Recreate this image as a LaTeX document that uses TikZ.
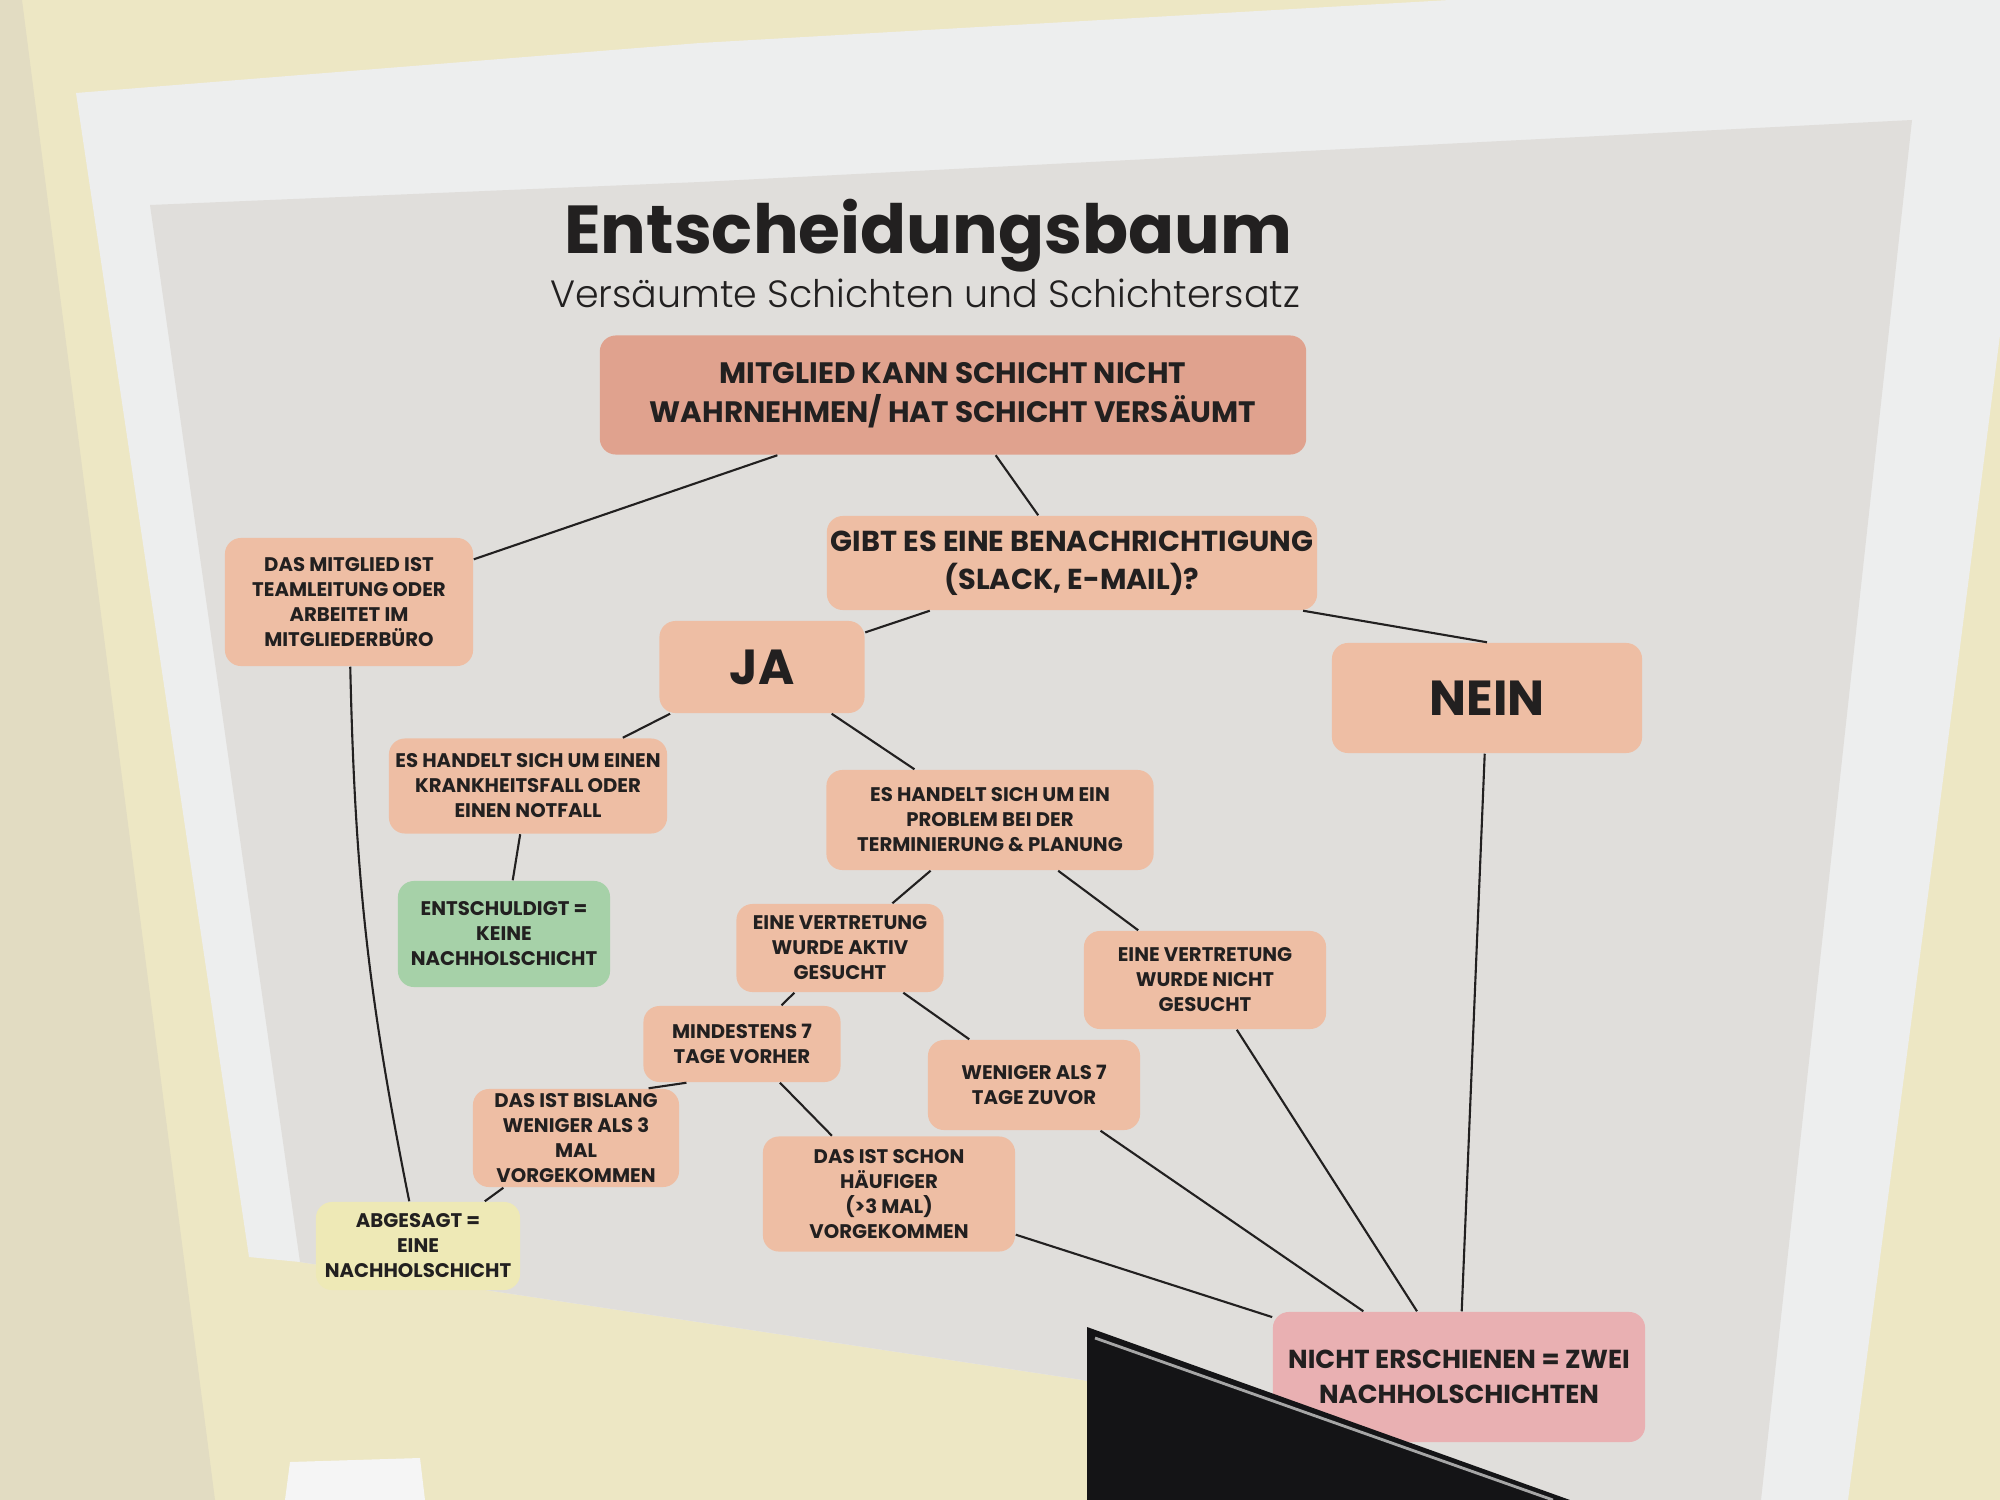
\documentclass[tikz,border=0pt]{standalone}
\usepackage{fontspec}
\setmainfont{Poppins}
\newfontfamily\lightfont{Poppins Light}
\usetikzlibrary{calc}

\definecolor{wall}{RGB}{237,231,196}
\definecolor{wallshade}{RGB}{226,220,194}
\definecolor{paper}{RGB}{237,238,238}
\definecolor{panel}{RGB}{224,222,219}
\definecolor{ink}{RGB}{34,32,32}
\definecolor{peach}{RGB}{238,190,164}
\definecolor{salmon}{RGB}{224,162,142}
\definecolor{mint}{RGB}{166,209,168}
\definecolor{cream}{RGB}{238,233,182}
\definecolor{rose}{RGB}{233,176,178}
\definecolor{screen}{RGB}{20,20,22}

\tikzset{
  card/.style={rounded corners=0.16cm, fill=peach, text=ink, align=center,
    inner sep=0pt, font=\fontsize{5.6}{7.1}\selectfont\bfseries},
  headcard/.style={card, font=\fontsize{8.4}{11}\selectfont\bfseries},
  answer/.style={card, font=\fontsize{14}{16}\selectfont\bfseries},
  link/.style={draw=ink, line width=0.6pt},
}

\begin{document}
\begin{tikzpicture}[x=0.01cm,y=-0.01cm]
\useasboundingbox (0,0) rectangle (2000,1500);
% wall, sheet and printed panel
\fill[wall] (0,0) rectangle (2000,1500);
\fill[wallshade] (0,0) -- (22,0) -- (215,1500) -- (0,1500) -- cycle;
\fill[paper] (76,93) -- (700,43) -- (1450,0) -- (2000,0) -- (2000,335) -- (1935,842)
  -- (1848,1500) -- (1560,1500) -- (1083,1380) -- (300,1262) -- (249,1257) -- cycle;
\fill[panel] (150,205) -- (700,182) -- (1912,120) -- (1761,1500) -- (1560,1500)
  -- (1083,1380) -- (300,1262) -- cycle;

\node[text=ink,font=\fontsize{19.3}{23}\selectfont\bfseries] (title) at (928,236) {Entscheidungsbaum};
\node[text=ink,font=\fontsize{10.8}{13}\selectfont\lightfont] (subtitle) at (925,293) {Versäumte Schichten und Schichtersatz};

% boxes
\node[headcard,fill=salmon,minimum width=7.06cm,minimum height=1.19cm] (top) at (953,395)
  {MITGLIED KANN SCHICHT NICHT\\WAHRNEHMEN/ HAT SCHICHT VERSÄUMT};
\node[card,minimum width=2.48cm,minimum height=1.28cm] (member) at (349,602)
  {DAS MITGLIED IST\\TEAMLEITUNG ODER\\ARBEITET IM\\MITGLIEDERBÜRO};
\node[headcard,minimum width=4.9cm,minimum height=0.94cm,
  font=\fontsize{8.2}{10.8}\selectfont\bfseries] (notice) at (1072,563)
  {GIBT ES EINE BENACHRICHTIGUNG\\(SLACK, E-MAIL)?};
\node[answer,minimum width=2.05cm,minimum height=0.92cm] (ja) at (762,667) {JA};
\node[answer,minimum width=3.1cm,minimum height=1.1cm] (nein) at (1487,698) {NEIN};
\node[card,minimum width=2.78cm,minimum height=0.95cm] (illness) at (528,786)
  {ES HANDELT SICH UM EINEN\\KRANKHEITSFALL ODER\\EINEN NOTFALL};
\node[card,minimum width=3.27cm,minimum height=1cm] (planning) at (990,820)
  {ES HANDELT SICH UM EIN\\PROBLEM BEI DER\\TERMINIERUNG \& PLANUNG};
\node[card,fill=mint,minimum width=2.12cm,minimum height=1.06cm] (excused) at (504,934)
  {ENTSCHULDIGT =\\KEINE\\NACHHOLSCHICHT};
\node[card,minimum width=2.07cm,minimum height=0.88cm] (sought) at (840,948)
  {EINE VERTRETUNG\\WURDE AKTIV\\GESUCHT};
\node[card,minimum width=2.42cm,minimum height=0.98cm] (notsought) at (1205,980)
  {EINE VERTRETUNG\\WURDE NICHT\\GESUCHT};
\node[card,minimum width=1.97cm,minimum height=0.76cm] (early) at (742,1044)
  {MINDESTENS 7\\TAGE VORHER};
\node[card,minimum width=2.12cm,minimum height=0.9cm] (late) at (1034,1085)
  {WENIGER ALS 7\\TAGE ZUVOR};
\node[card,minimum width=2.06cm,minimum height=0.98cm] (rare) at (576,1138)
  {DAS IST BISLANG\\WENIGER ALS 3\\MAL\\VORGEKOMMEN};
\node[card,minimum width=2.52cm,minimum height=1.15cm] (often) at (889,1194)
  {DAS IST SCHON\\HÄUFIGER\\(>3 MAL)\\VORGEKOMMEN};
\node[card,fill=cream,minimum width=2.04cm,minimum height=0.88cm] (cancelled) at (418,1246)
  {ABGESAGT =\\EINE\\NACHHOLSCHICHT};
\node[headcard,fill=rose,minimum width=3.72cm,minimum height=1.3cm,
  font=\fontsize{7.4}{10}\selectfont\bfseries] (noshow) at (1459,1377)
  {NICHT ERSCHIENEN = ZWEI\\NACHHOLSCHICHTEN};

% connectors
\draw[link] (top) -- (member);
\draw[link] (top) -- (notice);
\draw[link] (notice) -- (ja);
\draw[link] ($(notice.south east)!0.03!(notice.south west)$) -- (nein.north);
\draw[link] (ja) -- (illness);
\draw[link] (ja) -- (planning);
\draw[link] (illness) -- (excused);
\draw[link] (planning) -- (sought);
\draw[link] (planning) -- (notsought);
\draw[link] (sought) -- (early);
\draw[link] (sought) -- (late);
\draw[link] ($(early.south west)!0.22!(early.south east)$) -- ($(rare.north)!0.7!(rare.north east)$);
\draw[link] (early) -- (often);
\draw[link] ($(rare.south)!0.7!(rare.south west)$) -- ($(cancelled.north)!0.65!(cancelled.north east)$);
\draw[link] (member) to[bend right=5] (cancelled);
\draw[link] (often) -- (noshow);
\draw[link] (late) -- (noshow);
\draw[link] (notsought) -- (noshow);
\draw[link] (nein) -- (noshow);

% monitor in front of the sheet
\fill[screen] (1087,1327) -- (1570,1500) -- (1087,1500) -- cycle;
\draw[gray!70,line width=0.8pt] (1095,1338) -- (1553,1500);
\fill[white!92!gray] (290,1462) -- (420,1458) -- (425,1500) -- (285,1500) -- cycle;
\end{tikzpicture}
\end{document}
